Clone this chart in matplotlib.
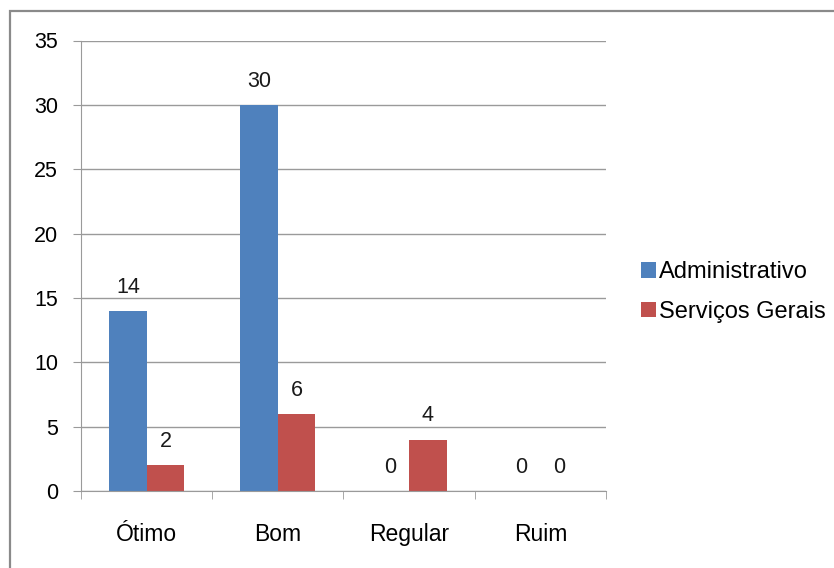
import numpy as np
import matplotlib.pyplot as plt
from matplotlib.patches import Rectangle

# dados
categorias = ['Ótimo', 'Bom', 'Regular', 'Ruim']
administrativo = [14, 30, 0, 0]
servicos_gerais = [2, 6, 4, 0]
series_nomes = ['Administrativo', 'Serviços Gerais']
y_ticks = [0, 5, 10, 15, 20, 25, 30, 35]

AZUL = '#4F81BD'
VERMELHO = '#C0504D'
GRADE = '#9a9a9a'

plt.rcParams['font.family'] = ['Liberation Sans', 'DejaVu Sans']

def main():
    fig = plt.figure(figsize=(8.34, 5.68), dpi=100)
    ax = fig.add_axes([81 / 834, 77 / 568, 525 / 834, 450.5 / 568])

    # borda externa do gráfico (cortada à direita e embaixo)
    fig.patches.append(Rectangle((10 / 834, -0.1), 1.2, 557 / 568 + 0.1,
                                 transform=fig.transFigure, fill=False,
                                 edgecolor='#8a8a8a', linewidth=1.6))

    x = np.arange(len(categorias))
    w = 0.286
    b1 = ax.bar(x - w / 2, administrativo, w, color=AZUL, label=series_nomes[0], zorder=3)
    b2 = ax.bar(x + w / 2, servicos_gerais, w, color=VERMELHO, label=series_nomes[1], zorder=3)

    for barras, vals in ((b1, administrativo), (b2, servicos_gerais)):
        for r, v in zip(barras, vals):
            ax.annotate(str(v), (r.get_x() + r.get_width() / 2, v),
                        xytext=(0, 13), textcoords='offset points',
                        ha='center', va='baseline', fontsize=15.5, color='#1a1a1a')

    ax.set_xlim(-0.5, len(categorias) - 0.5)
    ax.set_ylim(0, 35)
    ax.set_yticks(y_ticks)
    ax.set_yticklabels([str(t) for t in y_ticks], fontsize=15.5)
    ax.yaxis.grid(True, color=GRADE, linewidth=1, zorder=0)

    # rótulos de categoria centrados, ticks nas divisões
    ax.set_xticks(x)
    ax.set_xticklabels(categorias, fontsize=16.5)
    ax.tick_params(axis='x', length=0, pad=23)
    ax.set_xticks(np.arange(len(categorias) + 1) - 0.5, minor=True)
    ax.tick_params(axis='x', which='minor', length=6, color=GRADE, direction='out')
    ax.tick_params(axis='y', length=6, color=GRADE, pad=10.5)

    for lado in ('top', 'right'):
        ax.spines[lado].set_visible(False)
    ax.spines['left'].set_color(GRADE)
    ax.spines['bottom'].set_color(GRADE)
    ax.spines['bottom'].set_zorder(4)

    fig.legend(handles=[b1, b2], labels=series_nomes, loc='center left',
               bbox_to_anchor=(641 / 834, (568 - 292) / 568), frameon=False,
               fontsize=17, handlelength=0.64, handleheight=0.64,
               handletextpad=0.12, labelspacing=0.75, borderaxespad=0,
               borderpad=0)

    fig.savefig('out.png', dpi=100)
    plt.close(fig)

if __name__ == '__main__':
    main()
